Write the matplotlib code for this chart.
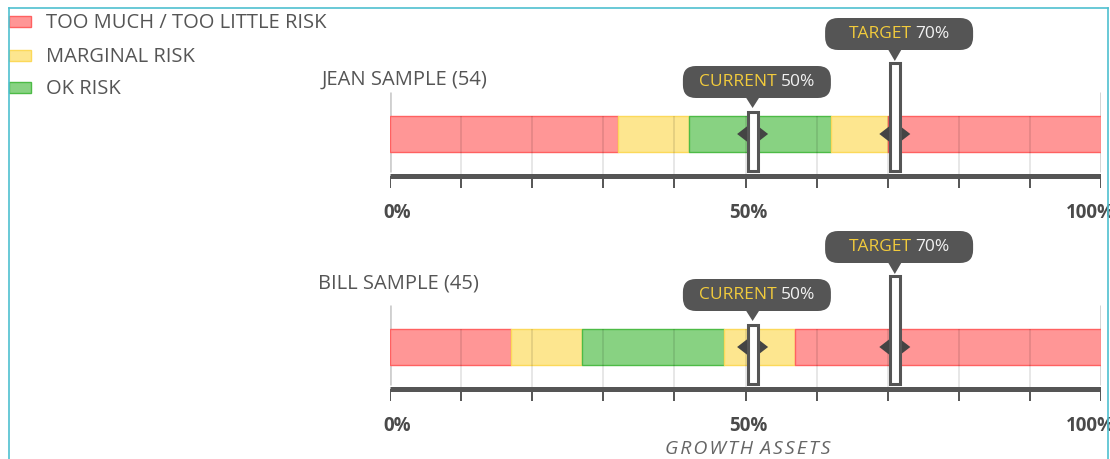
import matplotlib.pyplot as plt
from matplotlib.patches import FancyBboxPatch, Polygon, Rectangle
from matplotlib.offsetbox import TextArea, HPacker, AnnotationBbox
from matplotlib.lines import Line2D

plt.rcParams['font.family'] = ['Open Sans', 'DejaVu Sans']

## data
sample_names = ['JEAN SAMPLE (54)', 'BILL SAMPLE (45)']
jean_edges = [0, 32, 42, 62, 70, 100]
bill_edges = [0, 17, 27, 47, 57, 100]
zone_order = ['bad', 'marginal', 'ok', 'marginal', 'bad']
current_pct = [50, 50]
target_pct = [70, 70]
tick_pos = [0, 10, 20, 30, 40, 50, 60, 70, 80, 90, 100]
tick_text = {0: '0%', 50: '50%', 100: '100%'}
legend_labels = ['TOO MUCH / TOO LITTLE RISK', 'MARGINAL RISK', 'OK RISK']
legend_zones = ['bad', 'marginal', 'ok']
axis_title = 'GROWTH ASSETS'

## style
fill = {'bad': '#ff9696', 'marginal': '#fde68f', 'ok': '#88d282'}
edge = {'bad': '#ff6161', 'marginal': '#fcd95a', 'ok': '#4dbb46'}
dark = '#555555'
W, H = 1110, 459
X0, X1 = 390, 1101
PX = (X1 - X0) / 100.0   # pixel je prozent


def fx(p):
    return p / W


def fy(p):
    return 1 - p / H


fig = plt.figure(figsize=(W / 100, H / 100), dpi=100)


def tooltip(ax, value, label, y0, tip):
    cx = value + 1.0
    bx = value + 11.4 / PX
    w = 148 / PX
    box = FancyBboxPatch((bx - w / 2, y0), w, 32,
                         boxstyle='round,pad=0,rounding_size=%f' % (13 / PX),
                         mutation_aspect=PX, fc=dark, ec='none', zorder=8, clip_on=False)
    ax.add_patch(box)
    ax.add_patch(Polygon([(cx - 7 / PX, y0 + 1), (cx + 7 / PX, y0 + 1), (cx, tip)],
                         closed=True, fc=dark, ec='none', zorder=8, clip_on=False))
    pack = HPacker(children=[TextArea(label, textprops=dict(color='#f2cb3c', fontsize=12.5)),
                             TextArea('%d%%' % value, textprops=dict(color='#f2f2f2', fontsize=12.5))],
                   sep=3, pad=0, align='baseline')
    ab = AnnotationBbox(pack, (bx, y0 + 16), xycoords='data', frameon=False,
                        box_alignment=(0.5, 0.5), pad=0, zorder=9, annotation_clip=False)
    ax.add_artist(ab)


def marker(ax, value, top):
    cx = value + 1.0
    ax.add_patch(Polygon([(cx - 15.5 / PX, 0), (cx, 12), (cx + 15.5 / PX, 0), (cx, -12)],
                         closed=True, fc='#444444', ec='none', zorder=6))
    ax.add_patch(Rectangle((cx - 5 / PX, -36.5), 10 / PX, top + 36.5, fc='white', ec=dark,
                           lw=2.2, zorder=7, clip_on=False))


def draw_row(center, name, edges, cur, tgt, label_x, label_y):
    ax = fig.add_axes([fx(X0), (H - (center + 112)) / H, fx(X1 - X0), 242 / H])
    ax.set_xlim(0, 100)
    ax.set_ylim(-112, 130)
    ax.axis('off')
    ax.patch.set_alpha(0)

    ax.vlines([0, 100], -38, 42, color='#cfcfcf', lw=2, zorder=1)
    for i, z in enumerate(zone_order):
        ax.barh(0, edges[i + 1] - edges[i], left=edges[i], height=36,
                color=fill[z], edgecolor=edge[z], lw=1, zorder=2)
    ax.vlines(tick_pos[1:-1], -42, 18, color=(0, 0, 0, 0.1), lw=1.3, zorder=4)

    ax.hlines(-42, 0, 100, color=dark, lw=3.6, zorder=5)
    ax.vlines(tick_pos, -54, -42, color=dark, lw=1.4, zorder=5)
    for t, s in tick_text.items():
        kw = dict(va='center', fontsize=13.5, fontweight='bold', color='#4a4a4a', clip_on=False)
        if t == 0:
            ax.text(-1.0, -79, s, ha='left', **kw)
        elif t == 100:
            ax.text(95.0, -79, s, ha='left', **kw)
        else:
            ax.text(t + 0.4, -79, s, ha='center', **kw)

    ax.text(label_x, label_y, name, ha='left', va='center', fontsize=14.5, color=dark)

    marker(ax, cur, 22.5)
    marker(ax, tgt, 71.5)
    tooltip(ax, cur, 'CURRENT', 36, 26)
    tooltip(ax, tgt, 'TARGET', 84, 73)
    return ax


draw_row(134, sample_names[0], jean_edges, current_pct[0], target_pct[0], (322 - X0) / PX, 54.5)
ax2 = draw_row(347, sample_names[1], bill_edges, current_pct[1], target_pct[1], (318 - X0) / PX, 64)
ax2.text(50.35, -102, '\u200a'.join(axis_title).replace('\u200a \u200a', ' \u200a'),
         ha='center', va='center', fontsize=14,
         style='italic', color='#666666', clip_on=False)

# legende oben links
for i, (lab, z) in enumerate(zip(legend_labels, legend_zones)):
    yc = [21, 55, 87][i]
    fig.patches.append(Rectangle((fx(9), fy(yc + 5.5)), fx(22), 11 / H, transform=fig.transFigure,
                                 fc=fill[z], ec=edge[z], lw=1))
    fig.text(fx(46), fy(yc + 2.5), lab, ha='left', va='center', fontsize=14.5, color=dark)

# rahmen
for xs, ys in [([9, 1108], [8, 8]), ([9, 9], [8, H]), ([1108, 1108], [8, H])]:
    fig.add_artist(Line2D([fx(v) for v in xs], [fy(v) for v in ys], color='#4fc0d0', lw=1.2, zorder=20))

fig.savefig('out.png', dpi=100)
